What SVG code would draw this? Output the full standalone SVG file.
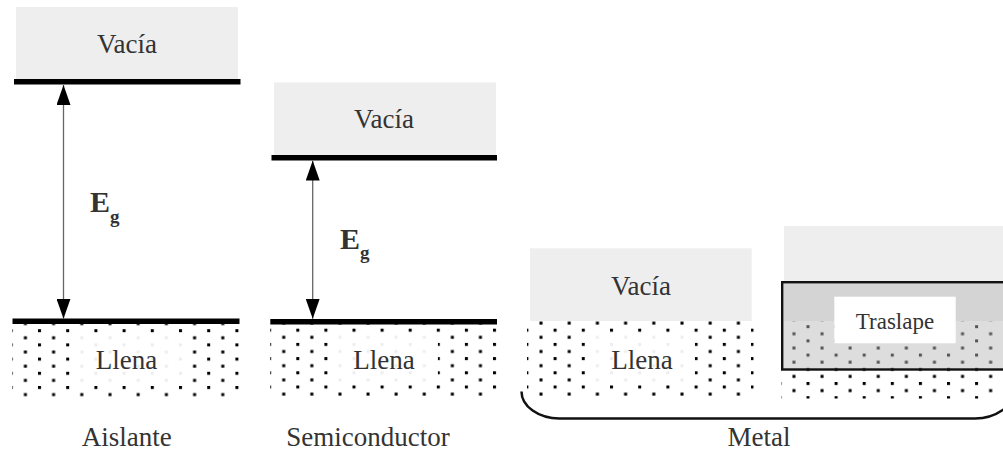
<svg xmlns="http://www.w3.org/2000/svg" width="1003" height="459" viewBox="0 0 1003 459">
<style>
.lbl{font-family:"Liberation Serif","Times New Roman",serif;font-size:27px;fill:#333333;text-anchor:middle}
.eg{font-family:"Liberation Serif","Times New Roman",serif;font-size:30px;font-weight:bold;fill:#333333}
.sub{font-size:19px}
.band{fill:#eeeeee}
.lvl{stroke:#000000;stroke-width:5.5;fill:none}
.shaft{stroke:#666666;stroke-width:1.3;fill:none}
.halo{fill:#ffffff;fill-opacity:0.93}
.dot{fill:#000000}
</style>
<defs>
<marker id="ah" viewBox="0 0 20 14" markerWidth="20" markerHeight="14" refX="20" refY="7" orient="auto-start-reverse" markerUnits="userSpaceOnUse">
<path d="M0,0 L20,7 L0,14 Z" fill="#000000"/>
</marker>
<pattern id="dA" patternUnits="userSpaceOnUse" x="9.8" y="329.2" width="28.2" height="14.2">
<rect class="dot" x="0" y="0" width="3" height="3"/><rect class="dot" x="14.1" y="7.1" width="3" height="3"/>
</pattern>
<pattern id="dS" patternUnits="userSpaceOnUse" x="268.2" y="328.7" width="28.1" height="14.2">
<rect class="dot" x="0" y="0" width="3" height="3"/><rect class="dot" x="14.05" y="7.1" width="3" height="3"/>
</pattern>
<pattern id="dM" patternUnits="userSpaceOnUse" x="525.4" y="328.7" width="28.2" height="14.2">
<rect class="dot" x="0" y="0" width="3" height="3"/><rect class="dot" x="14.1" y="7.1" width="3" height="3"/>
</pattern>
<pattern id="dR" patternUnits="userSpaceOnUse" x="778.4" y="325.2" width="28.1" height="14.2">
<rect class="dot" x="0" y="0" width="3" height="3"/><rect class="dot" x="14.05" y="7.1" width="3" height="3"/>
</pattern>
</defs>
<rect width="1003" height="459" fill="#ffffff"/>

<g id="aislante">
<rect class="band" x="16" y="7" width="222" height="73"/>
<text class="lbl" x="127" y="53">Vacía</text>
<line class="lvl" x1="14" y1="81.8" x2="240.5" y2="81.8"/>
<rect x="12.3" y="321" width="227.7" height="77.5" fill="url(#dA)"/>
<line class="lvl" x1="12.5" y1="321.3" x2="239.5" y2="321.3"/>
<rect class="halo" x="70" y="334" width="113" height="49"/>
<text class="lbl" x="126.5" y="369.3">Llena</text>
<text class="eg" x="90" y="212.3">E<tspan class="sub" dy="11">g</tspan></text>
<text class="lbl" x="126.7" y="446">Aislante</text>
</g>

<g id="semiconductor">
<rect class="band" x="274" y="82.5" width="222" height="73"/>
<text class="lbl" x="384" y="128">Vacía</text>
<line class="lvl" x1="271.5" y1="157.7" x2="497" y2="157.7"/>
<rect x="270.3" y="321" width="226.7" height="77.5" fill="url(#dS)"/>
<line class="lvl" x1="270.3" y1="321.7" x2="497" y2="321.7"/>
<rect class="halo" x="328" y="334" width="110" height="49"/>
<text class="lbl" x="384" y="369.3">Llena</text>
<text class="eg" x="340" y="249">E<tspan class="sub" dy="9.5">g</tspan></text>
<text class="lbl" x="368" y="446">Semiconductor</text>
</g>

<g id="metal">
<rect class="band" x="530" y="248.3" width="221.7" height="72.7"/>
<text class="lbl" x="641" y="294.5">Vacía</text>
<rect x="527" y="321" width="226.5" height="77.5" fill="url(#dM)"/>
<rect class="halo" x="585" y="334" width="110" height="49"/>
<text class="lbl" x="642" y="369.3">Llena</text>
<text class="lbl" x="759" y="446">Metal</text>
</g>

<g id="metal-traslape">
<rect class="band" x="784" y="226" width="230" height="95"/>
<rect x="781" y="321" width="230" height="77.5" fill="url(#dR)"/>
<rect x="782.2" y="282.2" width="240" height="87.3" fill="#b6b6b6" fill-opacity="0.47" stroke="#111111" stroke-width="2.4"/>
<rect x="834.3" y="296.7" width="121.4" height="46.6" fill="#ffffff"/>
<text class="lbl" x="895" y="329.3" style="font-size:23px">Traslape</text>
</g>

<g id="connectors">
<line class="shaft" x1="63.5" y1="318.8" x2="63.5" y2="85" marker-start="url(#ah)" marker-end="url(#ah)"/>
<line class="shaft" x1="312.7" y1="318.8" x2="312.7" y2="160.6" marker-start="url(#ah)" marker-end="url(#ah)"/>
<path d="M521.5 391.5 A38 27 0 0 0 559.5 418.5 L975 418.5 A38 27 0 0 0 1013 391.5" fill="none" stroke="#111111" stroke-width="2.5"/>
</g>
</svg>
